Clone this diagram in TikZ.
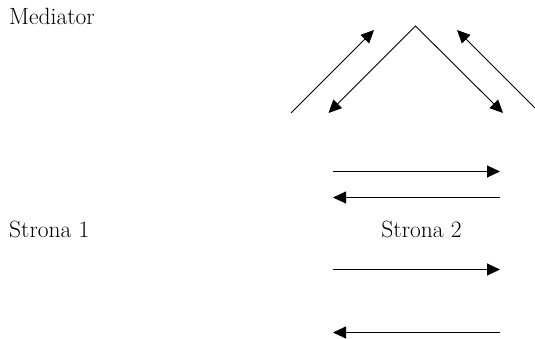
\documentclass[tikz,border=0pt]{standalone}
\usetikzlibrary{arrows.meta}
\tikzset{
  tip/.style={-{Triangle[length=13pt,width=12pt]}},
  conn/.style={line width=0.9pt, tip},
  lbl/.style={inner sep=0pt, anchor=base west, font=\fontsize{23.5}{28}\selectfont},
}
\begin{document}
\begin{tikzpicture}[x=1pt,y=-1pt]
\useasboundingbox (0,0) rectangle (535,339);
% labels
\node[lbl] (med) at (9,25) {Mediator};
\node[lbl] (s1) at (9,237) {Strona 1};
\node[lbl, anchor=base] (s2) at (421.5,237) {Strona 2};
% mediator lines
\coordinate (l1a) at (291,113);
\coordinate (l1b) at (374,30);
\coordinate (ml) at (328.5,113);
\coordinate (apex) at (415.5,26);
\coordinate (mr) at (503,113);
\coordinate (r1a) at (541,114);
\coordinate (r1b) at (457,30);
\draw[conn] (l1a) -- (l1b);
\draw[line width=0.9pt, {Triangle[length=13pt,width=12pt]}-{Triangle[length=13pt,width=12pt]}] (ml) -- (apex) -- (mr);
\draw[conn] (r1a) -- (r1b);
% horizontal arrows
\coordinate (a1l) at (332.5,171.5);
\coordinate (a1r) at (500,171.5);
\coordinate (a2l) at (333,197.5);
\coordinate (a2r) at (500,197.5);
\coordinate (a3l) at (332.5,269.5);
\coordinate (a3r) at (500,269.5);
\coordinate (a4l) at (333,332.5);
\coordinate (a4r) at (500,332.5);
\draw[conn] (a1l) -- (a1r);
\draw[conn] (a2r) -- (a2l);
\draw[conn] (a3l) -- (a3r);
\draw[conn] (a4r) -- (a4l);
\end{tikzpicture}
\end{document}
